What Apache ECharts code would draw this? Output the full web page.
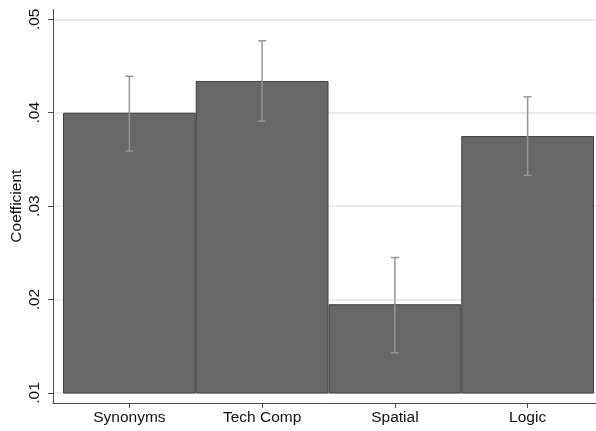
<!DOCTYPE html>
<html>
<head>
<meta charset="utf-8">
<script src="https://cdn.jsdelivr.net/npm/echarts@6/dist/echarts.min.js"></script>
<style>
html,body{margin:0;padding:0;background:#fff;}
#chart{width:596px;height:431px;}
</style>
</head>
<body>
<div id="chart"></div>
<script>
var categories = ['Synonyms', 'Tech Comp', 'Spatial', 'Logic'];
var coefficients = [0.0400, 0.0434, 0.0195, 0.0375];
var ciLow = [0.0359, 0.0391, 0.0143, 0.0333];
var ciHigh = [0.0439, 0.0477, 0.0245, 0.0417];
var yTickValues = [0.01, 0.02, 0.03, 0.04, 0.05];
var yTickLabels = ['.01', '.02', '.03', '.04', '.05'];
var yTitle = 'Coefficient';

var FONT = '"Liberation Sans", Arial, Helvetica, sans-serif';
var FS = 15.5;
var yMin = yTickValues[0], yMax = yTickValues[yTickValues.length - 1];
// outer frame extends ~10px beyond the tick range (Stata plot-region margin)
var pxPerUnit = (393 - 19.3) / (yMax - yMin);
var padLow = 10 / pxPerUnit, padHigh = 10 / pxPerUnit;

var chart = echarts.init(document.getElementById('chart'), null, {renderer: 'canvas'});

var errData = categories.map(function (c, i) { return [i, ciLow[i], ciHigh[i]]; });

var option = {
  animation: false,
  backgroundColor: '#ffffff',
  grid: [
    {left: 53, right: 0, top: 9.3, bottom: 28, containLabel: false, outerBoundsMode: 'none'},
    {left: 63, right: 2, top: 19.3, bottom: 38, containLabel: false, outerBoundsMode: 'none'}
  ],
  xAxis: [
    {
      gridIndex: 0, type: 'value', min: 0, max: 1,
      axisLine: {show: true, onZero: false, lineStyle: {color: '#4a4a4a', width: 1}},
      axisTick: {show: false}, axisLabel: {show: false}, splitLine: {show: false}
    },
    {
      gridIndex: 1, type: 'category', data: categories, boundaryGap: true,
      offset: 10,
      axisLine: {show: false},
      axisTick: {show: true, alignWithLabel: true, length: 5, lineStyle: {color: '#4a4a4a', width: 1}},
      axisLabel: {color: '#111', fontFamily: FONT, fontSize: FS, margin: 7},
      splitLine: {show: false}
    }
  ],
  yAxis: [
    {
      gridIndex: 0, type: 'value', min: yMin - padLow, max: yMax + padHigh,
      name: yTitle, nameLocation: 'middle', nameGap: 28, nameRotate: 90, nameMoveOverlap: false,
      nameTextStyle: {color: '#111', fontFamily: FONT, fontSize: FS},
      axisLine: {show: true, onZero: false, lineStyle: {color: '#4a4a4a', width: 1}},
      axisTick: {show: true, length: 5, customValues: yTickValues, lineStyle: {color: '#4a4a4a', width: 1}},
      axisLabel: {
        show: true, customValues: yTickValues, rotate: 90, margin: 10,
        color: '#111', fontFamily: FONT, fontSize: FS,
        formatter: function (v) {
          for (var i = 0; i < yTickValues.length; i++) {
            if (Math.abs(yTickValues[i] - v) < 1e-9) return yTickLabels[i];
          }
          return '';
        }
      },
      splitLine: {show: true, lineStyle: {color: '#e6e6e6', width: 1.5}}
    },
    {
      gridIndex: 1, type: 'value', min: yMin, max: yMax,
      axisLine: {show: false}, axisTick: {show: false}, axisLabel: {show: false}, splitLine: {show: false}
    }
  ],
  series: [
    {
      type: 'bar', xAxisIndex: 1, yAxisIndex: 1,
      data: coefficients,
      barWidth: '100%', barGap: '0%', barCategoryGap: '0%',
      itemStyle: {color: '#676767', borderColor: '#3e3e3e', borderWidth: 1},
      silent: true
    },
    {
      type: 'custom', xAxisIndex: 1, yAxisIndex: 1,
      data: errData,
      z: 10, silent: true,
      renderItem: function (params, api) {
        var x = api.value(0);
        var lo = api.coord([x, api.value(1)]);
        var hi = api.coord([x, api.value(2)]);
        var hw = 4;
        var st = {stroke: '#959595', lineWidth: 1.5};
        return {
          type: 'group',
          children: [
            {type: 'line', shape: {x1: lo[0], y1: lo[1], x2: hi[0], y2: hi[1]}, style: st},
            {type: 'line', shape: {x1: lo[0] - hw, y1: lo[1], x2: lo[0] + hw, y2: lo[1]}, style: st},
            {type: 'line', shape: {x1: hi[0] - hw, y1: hi[1], x2: hi[0] + hw, y2: hi[1]}, style: st}
          ]
        };
      }
    }
  ]
};
chart.setOption(option);
</script>
</body>
</html>
